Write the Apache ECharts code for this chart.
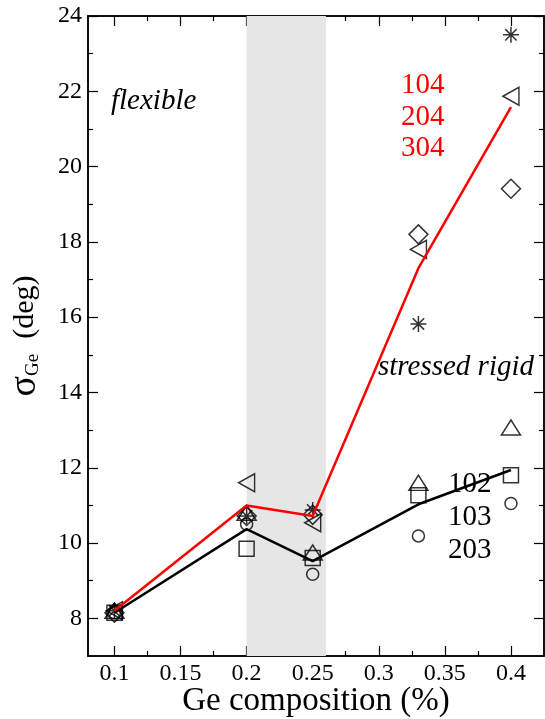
<!DOCTYPE html>
<html>
<head>
<meta charset="utf-8">
<script src="https://cdn.jsdelivr.net/npm/echarts@6/dist/echarts.min.js"></script>
<style>
  html, body { margin: 0; padding: 0; background: #fff; }
  #chart { width: 545px; height: 719px; }
</style>
</head>
<body>
<div id="chart"></div>
<script>
// Ge composition values
var composition = [0.1, 0.2, 0.25, 0.33, 0.4];
// black group
var circleVals = [8.15, 10.5, 9.17, 10.19, 11.05];
var squareVals = [8.15, 9.85, 9.6, 11.27, 11.8];
var triUpVals = [8.2, 10.8, 9.75, 11.6, 13.07];
var blackMean = [8.15, 10.37, 9.52, 11.03, 11.94];
// red group
var triLeftVals = [8.2, 11.6, 10.54, 17.8, 21.87];
var diamondVals = [8.15, 10.72, 10.75, 18.2, 19.41];
var starVals = [8.2, 10.72, 10.88, 15.82, 23.5];
var redMean = [8.2, 11.0, 10.72, 17.3, 21.58];
// ticks
var xMajor = [0.1, 0.15, 0.2, 0.25, 0.3, 0.35, 0.4];
var xMinor = [0.125, 0.175, 0.225, 0.275, 0.325, 0.375];
var yMajor = [8, 10, 12, 14, 16, 18, 20, 22, 24];
var yMinor = [9, 11, 13, 15, 17, 19, 21, 23];
var rigidBand = [0.2, 0.26];
var blackLabels = ["102", "103", "203"];
var redLabels = ["104", "204", "304"];

var FONT = "Liberation Serif";
var starPath = "path://M8,0L8,16M0,8L16,8M2.3,2.3L13.7,13.7M2.3,13.7L13.7,2.3";

function pairs(ys) {
  return composition.map(function (x, i) { return [x, ys[i]]; });
}

function xAx(pos, ticks, len, label) {
  return {
    type: "value", position: pos, min: 0.08, max: 0.425,
    axisLine: { show: true, lineStyle: { color: "#000", width: 1.5 } },
    axisTick: { show: true, inside: true, length: len, customValues: ticks,
      lineStyle: { color: "#000", width: 1.2 } },
    axisLabel: { show: label, customValues: ticks, margin: 6,
      fontFamily: FONT, fontSize: 24, color: "#000" },
    splitLine: { show: false }
  };
}
function yAx(pos, ticks, len, label) {
  return {
    type: "value", position: pos, min: 7, max: 24,
    axisLine: { show: true, lineStyle: { color: "#000", width: 1.5 } },
    axisTick: { show: true, inside: true, length: len, customValues: ticks,
      lineStyle: { color: "#000", width: 1.2 } },
    axisLabel: { show: label, customValues: ticks, margin: 6,
      fontFamily: FONT, fontSize: 24, color: "#000" },
    splitLine: { show: false }
  };
}

function scatter(name, ys, symbol, size, rotate) {
  return {
    name: name, type: "scatter", data: pairs(ys),
    symbol: symbol, symbolSize: size, symbolRotate: rotate || 0, z: 4,
    itemStyle: { color: "rgba(0,0,0,0)", borderColor: "#000", borderWidth: 1.5 }
  };
}

var chart = echarts.init(document.getElementById("chart"));

var xBottom = xAx("bottom", xMajor, 10, true);
xBottom.name = "Ge composition (%)";
xBottom.nameLocation = "middle";
xBottom.nameGap = 29;
xBottom.nameMoveOverlap = false;
xBottom.nameTextStyle = { fontFamily: FONT, fontSize: 33, color: "#000" };

var yLeft = yAx("left", yMajor, 10, true);
yLeft.name = "{s|σ}{sub|Ge}{d|  (deg)}";
yLeft.nameLocation = "middle";
yLeft.nameRotate = 90;
yLeft.nameGap = 44;
yLeft.nameMoveOverlap = false;
yLeft.nameTextStyle = {
  fontFamily: FONT, color: "#000",
  rich: {
    s: { fontFamily: FONT, fontSize: 38, color: "#000" },
    sub: { fontFamily: FONT, fontSize: 19, color: "#000", padding: [16, 0, 0, 0] },
    d: { fontFamily: FONT, fontSize: 30, color: "#000" }
  }
};

var option = {
  animation: false,
  backgroundColor: "#fff",
  grid: { left: 88, right: 1, top: 16, bottom: 63, outerBoundsMode: "none", containLabel: false },
  xAxis: [
    xBottom,
    xAx("bottom", xMinor, 5, false),
    xAx("top", xMajor, 10, false),
    xAx("top", xMinor, 5, false)
  ],
  yAxis: [
    yLeft,
    yAx("left", yMinor, 5, false),
    yAx("right", yMajor, 10, false),
    yAx("right", yMinor, 5, false)
  ],
  series: [
    {
      type: "line", data: [], z: 1,
      markArea: {
        silent: true,
        itemStyle: { color: "#e6e6e6" },
        data: [[{ xAxis: rigidBand[0] }, { xAxis: rigidBand[1] }]]
      }
    },
    scatter("circle", circleVals, "circle", 12),
    scatter("square", squareVals, "rect", 15),
    scatter("triUp", triUpVals, "triangle", [19, 15]),
    scatter("triLeft", triLeftVals, "triangle", [18, 16], 90),
    scatter("diamond", diamondVals, "diamond", 19),
    scatter("star", starVals, starPath, 16),
    {
      name: "black mean", type: "line", data: pairs(blackMean), z: 5,
      symbol: "none", lineStyle: { color: "#000", width: 2.5 }
    },
    {
      name: "red mean", type: "line", data: pairs(redMean), z: 6,
      symbol: "none", lineStyle: { color: "#ff0000", width: 2.5 }
    }
  ],
  graphic: [
    { type: "text", left: 111, top: 87,
      style: { text: "flexible", font: "italic 29px " + FONT, fill: "#000" } },
    { type: "text", left: 378, top: 353,
      style: { text: "stressed rigid", font: "italic 29px " + FONT, fill: "#000" } },
    { type: "text", left: 401, top: 70,
      style: { text: redLabels.join("\n"), font: "29px " + FONT, fill: "#ff0000", lineHeight: 31.5 } },
    { type: "text", left: 448, top: 468,
      style: { text: blackLabels.join("\n"), font: "29px " + FONT, fill: "#000", lineHeight: 33 } }
  ]
};

chart.setOption(option);
</script>
</body>
</html>
